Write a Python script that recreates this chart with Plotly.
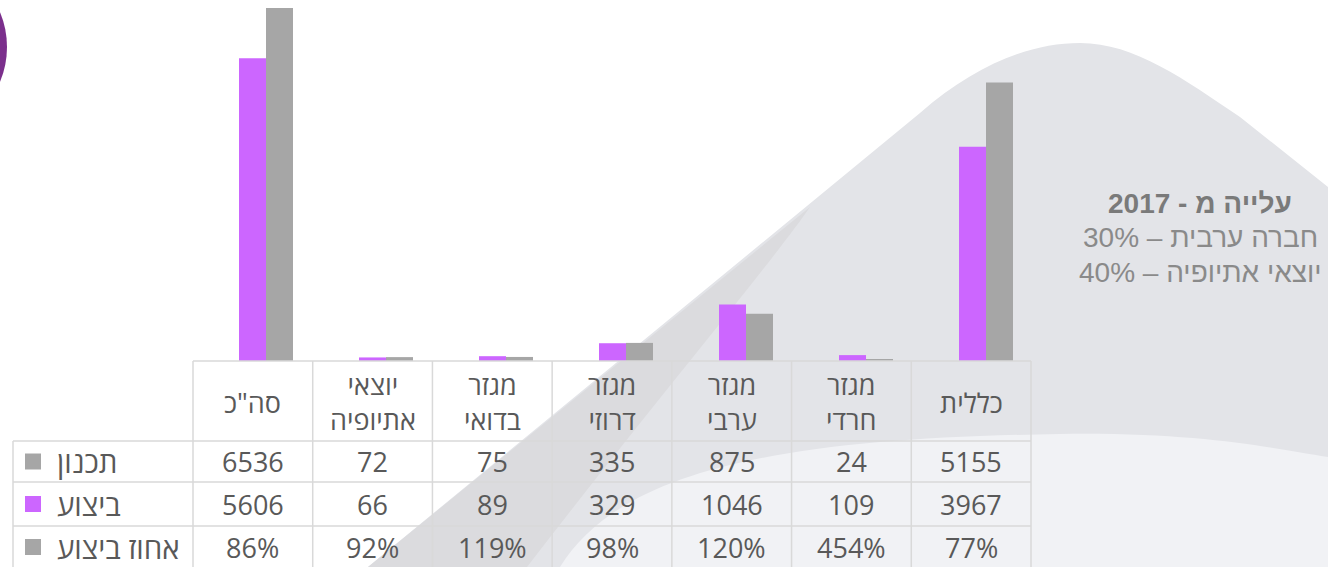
import plotly.graph_objects as go

# ---------------- data ----------------
categories = ['סה"כ', "יוצאי אתיופיה", "מגזר בדואי", "מגזר דרוזי", "מגזר ערבי", "מגזר חרדי", "כללית"]
plan = [6536, 72, 75, 335, 875, 24, 5155]          # תכנון
execution = [5606, 66, 89, 329, 1046, 109, 3967]   # ביצוע
pct = [86, 92, 119, 98, 120, 454, 77]              # אחוז ביצוע
row_names = ["תכנון", "ביצוע", "אחוז ביצוע"]
side_title = "עלייה מ - 2017"
side_lines = ["חברה ערבית – 30%", "יוצאי אתיופיה – 40%"]

PURPLE = "#cc66ff"
GREY = "#a6a6a6"
TXT = "#595959"
LINE = "#d9d9d9"
FONT = "Open Sans, Liberation Sans, DejaVu Sans, sans-serif"

W, H = 1328, 567
L, R, T, B = 206, 1046, 0, 361   # plot area in pixels

def px(x):
    return (x - L) / (R - L)

def py(y):
    return (B - y) / (B - T)

def path(cmds):
    out = []
    for c in cmds:
        if isinstance(c, str):
            out.append(c)
        else:
            out.append(f"{px(c[0]):.5f},{py(c[1]):.5f}")
    return " ".join(out)

fig = go.Figure()
fig.add_trace(go.Bar(x=categories, y=execution, name=row_names[1], marker_color=PURPLE,
                     marker_line_width=0))
fig.add_trace(go.Bar(x=categories, y=plan, name=row_names[0], marker_color=GREY,
                     marker_line_width=0))

shapes = []
# background decorations
shapes.append(dict(type="path", xref="paper", yref="paper", layer="below", line_width=0,
                   fillcolor="#e3e4e8",
                   path=path(["M", (368, 567), "L", (920, 113), "C", (975, 65), (1030, 43), (1080, 43),
                              "C", (1135, 43), (1185, 80), (1240, 117), "L", (1328, 187),
                              "L", (1328, 567), "Z"])))
shapes.append(dict(type="path", xref="paper", yref="paper", layer="below", line_width=0,
                   fillcolor="#f1f2f5",
                   path=path(["M", (560, 567), "C", (620, 470), (780, 438), (1060, 434),
                              "C", (1200, 432), (1270, 448), (1328, 457), "L", (1328, 567), "Z"])))
shapes.append(dict(type="path", xref="paper", yref="paper", layer="below", line_width=0,
                   fillcolor="#dbdbde",
                   path=path(["M", (368, 567), "L", (810, 207), "C", (770, 265), (640, 420), (527, 567), "Z"])))
# purple circle top-left
shapes.append(dict(type="circle", xref="paper", yref="paper", layer="below", line_width=0,
                   fillcolor="#7b2f8c", x0=px(-175), x1=px(7), y0=py(138), y1=py(-44)))

# table grid
col_left = 193
col_w = (1031 - 193) / len(categories)
row_y = [361, 441, 482, 526, 567]
for i in range(len(categories) + 1):
    x = col_left + i * col_w
    shapes.append(dict(type="line", xref="paper", yref="paper", x0=px(x), x1=px(x),
                       y0=py(361), y1=py(567), line=dict(color=LINE, width=1.5)))
shapes.append(dict(type="line", xref="paper", yref="paper", x0=px(13), x1=px(13),
                   y0=py(441), y1=py(567), line=dict(color=LINE, width=1.5)))
shapes.append(dict(type="line", xref="paper", yref="paper", x0=px(193), x1=px(1031),
                   y0=py(361), y1=py(361), line=dict(color=LINE, width=1.5)))
for y in row_y[1:4]:
    shapes.append(dict(type="line", xref="paper", yref="paper", x0=px(13), x1=px(1031),
                       y0=py(y), y1=py(y), line=dict(color=LINE, width=1.5)))

annotations = []
row_centers = [461.5, 504, 547]
key_colors = [GREY, PURPLE, GREY]
for r, name in enumerate(row_names):
    yc = row_centers[r]
    shapes.append(dict(type="rect", xref="paper", yref="paper", line_width=0,
                       fillcolor=key_colors[r], x0=px(25), x1=px(41), y0=py(yc + 8), y1=py(yc - 8)))
    annotations.append(dict(x=px(55), y=py(yc), xref="paper", yref="paper", text=name,
                            xanchor="left", yanchor="middle", showarrow=False,
                            font=dict(size=29.5, color=TXT, family=FONT)))

row_values = [[str(v) for v in plan], [str(v) for v in execution], [f"{v}%" for v in pct]]
for i, cat in enumerate(categories):
    xc = col_left + (i + 0.5) * col_w
    annotations.append(dict(x=px(xc), y=py(402), xref="paper", yref="paper",
                            text=cat.replace(" ", "<br>"), xanchor="center", yanchor="middle",
                            showarrow=False, font=dict(size=27, color=TXT, family=FONT)))
    for r in range(3):
        annotations.append(dict(x=px(xc), y=py(row_centers[r]), xref="paper", yref="paper",
                                text=row_values[r][i], xanchor="center", yanchor="middle",
                                showarrow=False, font=dict(size=27, color=TXT, family=FONT)))

# side text
annotations.append(dict(x=px(1200), y=py(204), xref="paper", yref="paper", text=f"<b>{side_title}</b>",
                        xanchor="center", yanchor="middle", showarrow=False,
                        font=dict(size=28, color="#7a7a7a", family="Liberation Sans, Arial, sans-serif")))
for k, t in enumerate(side_lines):
    annotations.append(dict(x=px(1200), y=py(238 + 34 * k), xref="paper", yref="paper", text=t,
                            xanchor="center", yanchor="middle", showarrow=False,
                            font=dict(size=28, color="#8a8a8a", family="Liberation Sans, Arial, sans-serif")))

fig.update_layout(
    width=W, height=H,
    margin=dict(l=L, r=W - R, t=T, b=H - B, pad=0),
    paper_bgcolor="white", plot_bgcolor="rgba(0,0,0,0)",
    barmode="group", bargap=0.55, bargroupgap=0,
    showlegend=False,
    shapes=shapes, annotations=annotations,
    xaxis=dict(type="category", showticklabels=False, showgrid=False, zeroline=False,
               showline=False, ticks="", range=[-0.5, len(categories) - 0.5]),
    yaxis=dict(range=[0, 6536 * 361 / 353], visible=False, showgrid=False, zeroline=False),
)

fig.write_html("out.html", config={"displayModeBar": False},
               post_script="document.body.style.margin='0px';")
